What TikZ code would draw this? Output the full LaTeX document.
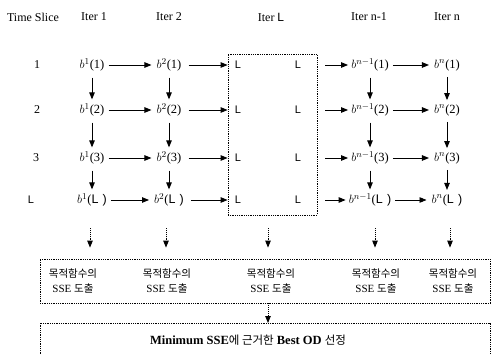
\documentclass[tikz,border=0pt]{standalone}
\usepackage{fontspec}
\setmainfont{Liberation Serif}
\newfontfamily\kr{Noto Sans CJK KR}
\newfontfamily\sansL{Liberation Sans}
\usetikzlibrary{arrows.meta}
\newcommand{\krs}{\kr\mdseries\fontsize{10.5}{14}\selectfont}
\begin{document}
\begin{tikzpicture}[x=1pt,y=-1pt,
  lab/.style={font=\fontsize{12}{14}\selectfont, inner sep=1pt},
  bnode/.style={font=\fontsize{12.5}{14}\selectfont, inner sep=1pt},
  ell/.style={font=\sansL\fontsize{11}{13}\selectfont, inner sep=1pt},
  arr/.style={line width=0.9pt, -{Triangle[length=7pt,width=5.5pt]}},
  darr/.style={line width=0.9pt, densely dotted, -{Triangle[length=7pt,width=5.5pt]}},
  dbox/.style={draw, line width=0.8pt, densely dotted},
  sse/.style={font=\fontsize{11}{15}\selectfont, align=center, inner sep=0pt}
]
\useasboundingbox (0,0) rectangle (494,355);
% headers
\node[lab] (hts) at (33,17) {Time Slice};
\node[lab] (h1) at (94,17) {Iter 1};
\node[lab] (h2) at (169,17) {Iter 2};
\node[lab] (hL) at (271,17) {Iter {\sansL L}};
\node[lab] (hn1) at (369,17) {Iter n-1};
\node[lab] (hn) at (447,17) {Iter n};
% row labels
\node[lab] (r1) at (37,65) {1};
\node[lab] (r2) at (37,110) {2};
\node[lab] (r3) at (36,158) {3};
\node[ell] (rL) at (31,200) {L};
% Iter L box
\node[dbox, minimum width=89pt, minimum height=161pt, inner sep=0pt] (box) at (272.5,134.5) {};
% b nodes
\foreach \r/\y/\t in {1/65/1, 2/110/2, 3/158/3, L/200/{\sansL L\,\,}} {
  \node[bnode] (a\r) at (92,\y) {$b^{1}$(\t)};
  \node[bnode] (c\r) at (169,\y) {$b^{2}$(\t)};
  \node[ell] (l\r) at (238,\y) {L};
  \node[ell] (m\r) at (298,\y) {L};
  \node[bnode] (d\r) at (370,\y) {$b^{n-1}$(\t)};
  \node[bnode] (e\r) at (447,\y) {$b^{n}$(\t)};
  \draw[arr, shorten <=3pt, shorten >=4pt] (a\r.east) -- (c\r.west);
  \draw[arr, shorten <=6pt] (c\r.east) -- (c\r.east -| box.west);
  \draw[arr, shorten <=8pt, shorten >=2pt] (box.east |- d\r.west) -- (d\r.west);
  \draw[arr, shorten <=3pt, shorten >=4pt] (d\r.east) -- (e\r.west);
}
\foreach \c in {a,c,d,e} {
  \draw[arr, shorten <=5pt, shorten >=3pt] (\c1.south) -- (\c2.north);
  \draw[arr, shorten <=5pt, shorten >=3pt] (\c2.south) -- (\c3.north);
  \draw[arr, shorten <=5pt, shorten >=3pt] (\c3.south) -- (\c L.north);
}
% SSE box
\node[dbox, minimum width=450pt, minimum height=44pt, inner sep=0pt] (ssebox) at (265,281) {};
\node[sse] (s1) at (73,281) {{\krs 목적함수의}\\SSE {\krs 도출}};
\node[sse] (s2) at (167,281) {{\krs 목적함수의}\\SSE {\krs 도출}};
\node[sse] (s3) at (271,281) {{\krs 목적함수의}\\SSE {\krs 도출}};
\node[sse] (s4) at (376,281) {{\krs 목적함수의}\\SSE {\krs 도출}};
\node[sse] (s5) at (453,281) {{\krs 목적함수의}\\SSE {\krs 도출}};
% dotted arrows to SSE box
\foreach \c/\x in {aL/90, cL/166, box/268, dL/375, eL/450} {
  \coordinate (t\c) at (\x,228);
  \draw[darr, shorten >=11pt] (t\c) -- (t\c |- ssebox.north);
}
% final box
\coordinate (fbl) at (40,356);
\coordinate (fbr) at (490,356);
\draw[dbox] (fbl) -- (40,323) -- (490,323) -- (fbr);
\coordinate (fbt) at (268,323);
\draw[darr] (ssebox.south -| fbt) -- (fbt);
\node[font=\bfseries\fontsize{12.5}{14}\selectfont, inner sep=0pt] (final) at (248,340) {Minimum SSE{\kr\mdseries\fontsize{11.5}{14}\selectfont 에 근거한} Best OD {\kr\mdseries\fontsize{11.5}{14}\selectfont 선정}};
\end{tikzpicture}
\end{document}
